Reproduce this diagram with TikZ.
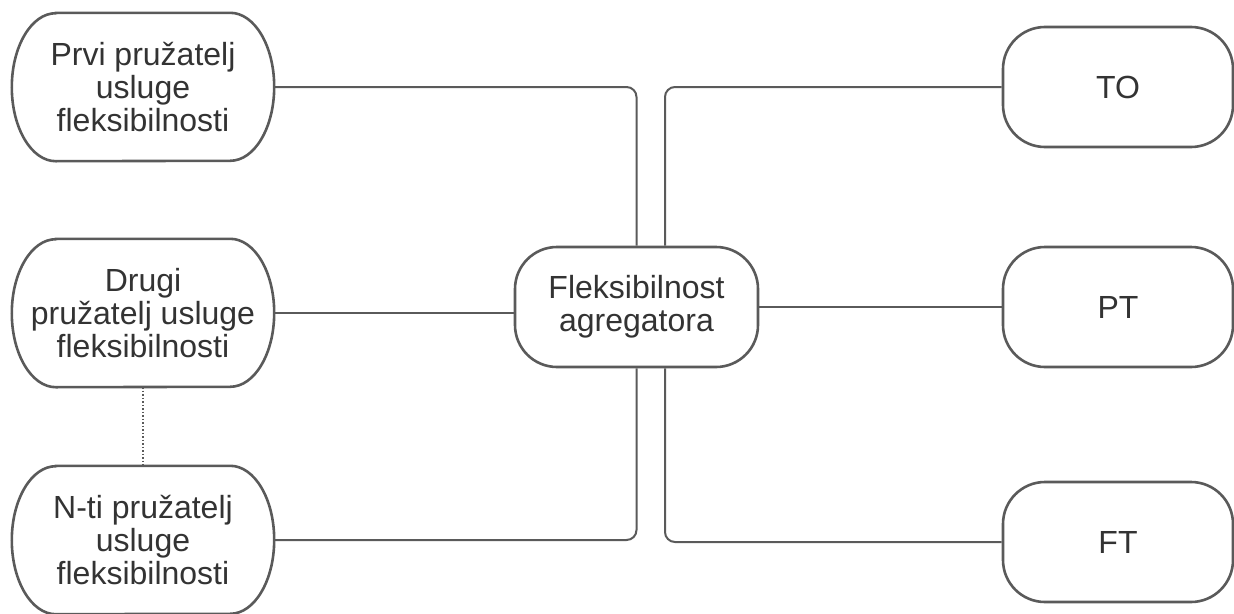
\documentclass[tikz,border=0pt]{standalone}
\usepackage{fontspec}
\setmainfont{Liberation Sans}
\usepackage{tikz}
\usetikzlibrary{positioning}
\definecolor{LineGray}{HTML}{5A5A5A}
\definecolor{TextGray}{HTML}{333333}

\tikzset{
    pill/.style={draw=LineGray, line width=2.6pt, fill=white, rounded corners=42pt,
        minimum width=230pt, minimum height=120pt, align=center, text=TextGray,
        font=\fontsize{32}{33}\selectfont},
    provider/.style={minimum width=262pt, minimum height=148pt, align=center,
        text=TextGray, font=\fontsize{32}{33}\selectfont},
    link/.style={draw=LineGray, line width=2pt, rounded corners=10pt},
}

\begin{document}
\begin{tikzpicture}[x=1pt, y=1pt]
    \useasboundingbox (0,0) rectangle (1234,-613);

    % providers on the left
    \node[provider] (prvi) at (143,-87) {Prvi pružatelj\\usluge\\fleksibilnosti};
    \node[provider] (drugi) at (143,-313) {Drugi\\pružatelj usluge\\fleksibilnosti};
    \node[provider] (nti) at (143,-540) {N-ti pružatelj\\usluge\\fleksibilnosti};
    \foreach \n in {prvi, drugi, nti}
        \draw[draw=LineGray, line width=2.6pt]
            ([xshift=44pt]\n.north west) -- ([xshift=-44pt]\n.north east)
            arc[start angle=90, end angle=-90, x radius=44pt, y radius=74pt]
            -- ([xshift=44pt]\n.south west)
            arc[start angle=270, end angle=90, x radius=44pt, y radius=74pt] -- cycle;

    % aggregator and markets
    \node[pill, minimum width=243pt] (agg) at (636.5,-307) {Fleksibilnost\\agregatora};
    \node[pill] (to) at (1118,-87) {TO};
    \node[pill] (pt) at (1118,-307) {PT};
    \node[pill] (ft) at (1118,-542) {FT};

    % connectors
    \draw[link] (prvi.east) -| (agg.north);
    \draw[link] (drugi.east) -- (drugi.east -| agg.west);
    \draw[link] (nti.east) -| (agg.south);
    \draw[link] ([xshift=28.5pt]agg.north) |- (to.west);
    \draw[link] (agg.east) -- (pt.west);
    \draw[link] ([xshift=28.5pt]agg.south) |- (ft.west);
    \draw[draw=LineGray, line width=1.5pt, dotted] (drugi.south) -- (nti.north);
\end{tikzpicture}
\end{document}
